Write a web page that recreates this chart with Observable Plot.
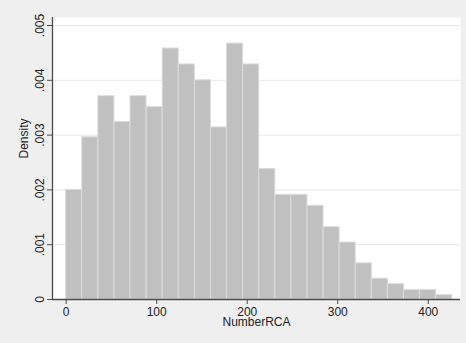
<!DOCTYPE html>
<html>
<head>
<meta charset="utf-8">
<script src="https://cdn.jsdelivr.net/npm/d3@7"></script>
<script src="https://cdn.jsdelivr.net/npm/@observablehq/plot@0.6"></script>
<style>
  html, body { margin: 0; padding: 0; background: #efefef; }
  #chart { width: 466px; height: 343px; }
</style>
</head>
<body>
<div id="chart"></div>
<script>
// Histogram of NumberRCA (density scale)
const binStartFirst = 0;
const binWidth = 17.77;
const density = [
  0.00200, 0.00296, 0.00371, 0.00324, 0.00371, 0.00351, 0.00458, 0.00429,
  0.00400, 0.00314, 0.00467, 0.00429, 0.00238, 0.00191, 0.00191, 0.00171,
  0.00132, 0.00104, 0.00066, 0.00038, 0.00028, 0.000175, 0.000175, 0.00008
];
const xTicks = [0, 100, 200, 300, 400];
const yTicks = [0, 0.001, 0.002, 0.003, 0.004, 0.005];
const xLabel = "NumberRCA";
const yLabel = "Density";

const bins = density.map((d, i) => ({
  x1: binStartFirst + i * binWidth,
  x2: binStartFirst + (i + 1) * binWidth,
  density: d
}));

const xDomain = [-15.1, 435.6];
const yDomain = [0, 0.005146];
const fmtY = d => d === 0 ? "0" : d3.format(".3f")(d).replace(/^0/, "");
const axisColor = "#4a4a4a";

const chart = Plot.plot({
  width: 466,
  height: 343,
  marginLeft: 52,
  marginRight: 6,
  marginTop: 17,
  marginBottom: 44,
  style: {
    background: "#efefef",
    fontFamily: "'Liberation Sans', Arial, sans-serif",
    fontSize: "12px",
    color: "#222"
  },
  x: { domain: xDomain },
  y: { domain: yDomain },
  marks: [
    Plot.frame({ fill: "white", stroke: "none" }),
    Plot.gridY(yTicks, { stroke: "#e6e6e6", strokeOpacity: 1 }),
    Plot.rectY(bins, {
      x1: "x1", x2: "x2", y: "density",
      fill: "#c0c0c0", stroke: "#dcdcdc", strokeWidth: 1
    }),
    Plot.ruleX([xDomain[0]], { stroke: axisColor, strokeWidth: 1.3 }),
    Plot.ruleY([0], { stroke: axisColor, strokeWidth: 1.3 }),
    Plot.axisX(xTicks, {
      tickSize: 5, tickPadding: 3, label: null,
      stroke: axisColor, fill: "#222"
    }),
    Plot.axisY(yTicks, {
      tickSize: 5, tickRotate: -90, tickFormat: fmtY, label: null,
      stroke: axisColor, fill: "#222"
    }),
    Plot.text([yLabel], {
      frameAnchor: "left", rotate: -90, dx: -28, fill: "#222", fontSize: 12
    }),
    Plot.text([xLabel], {
      frameAnchor: "bottom", dy: 26, fill: "#222", fontSize: 12
    })
  ]
});

document.getElementById("chart").appendChild(chart);
</script>
</body>
</html>
